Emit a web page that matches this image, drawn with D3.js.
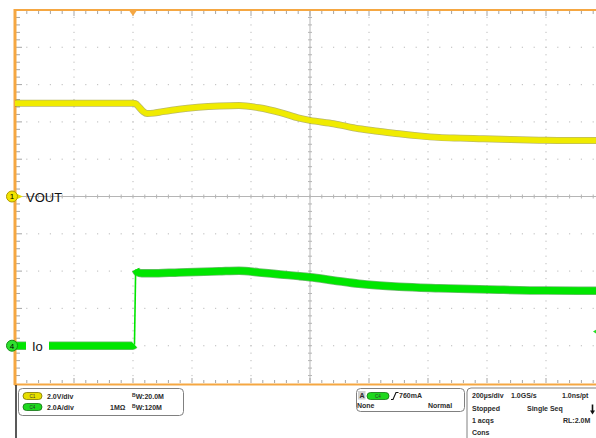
<!DOCTYPE html>
<html>
<head>
<meta charset="utf-8">
<script src="https://cdnjs.cloudflare.com/ajax/libs/d3/7.8.5/d3.min.js"></script>
<style>
    body { margin: 0; background: #fff; }
    svg { display: block; font-family: "Liberation Sans", Arial, sans-serif; }
    .stat { font-size: 7px; font-weight: bold; fill: #2b2b2b; }
</style>
</head>
<body>
<script>
// channel 1 (VOUT): time in us, value in volts
var voutTime  = [-400, -200, 0, 8, 20, 35, 48, 70, 100, 156, 220, 292, 359, 427, 500, 563, 600, 680, 766, 830, 902, 970, 1037, 1110, 1173, 1280, 1376, 1470, 1600];
var voutVolts = [5.0, 5.0, 5.0, 4.98, 4.8, 4.55, 4.45, 4.47, 4.55, 4.68, 4.78, 4.85, 4.88, 4.76, 4.5, 4.2, 4.08, 3.9, 3.63, 3.5, 3.36, 3.25, 3.17, 3.13, 3.1, 3.05, 3.02, 3.0, 3.0];

// channel 4 (Io): time in us, value in amps
var ioTime = [-400, -200, 0, 5, 9, 14, 30, 60, 156, 292, 359, 427, 500, 563, 600, 680, 766, 902, 1037, 1241, 1400, 1600];
var ioAmps = [0, 0, 0, 0.05, 4.08, 3.96, 3.88, 3.88, 3.93, 3.99, 4.02, 3.93, 3.82, 3.73, 3.67, 3.5, 3.32, 3.16, 3.08, 3.0, 2.96, 2.95];
var ioEdge = [3, 4];   // indices of the fast rising edge

// scope settings
var timePerDiv = 200;      // us/div
var ch1Scale = 2.0;        // V/div
var ch4Scale = 2.0;        // A/div
var ch1Offset = 0;         // div
var ch4Offset = -4;        // div
var triggerLevel = 0.76;   // A

// readout texts
var chanLabels = ["VOUT", "Io"];
var ch1Read = ["2.0V/div", ":20.0M"];
var ch4Read = ["2.0A/div", "1M\u03A9", ":120M"];
var trigRead = ["A", "C4", "760mA", "None", "Normal"];
var acqRows = [
    [["200\u00B5s/div", 472], ["1.0GS/s", 511], ["1.0ns/pt", 562]],
    [["Stopped", 472], ["Single Seq", 527]],
    [["1 acqs", 472], ["RL:2.0M", 563]],
    [["Cons", 472]]
];

var width = 596, height = 438;
var orange = "#f5a742";

var svg = d3.select("body").append("svg")
    .attr("width", width)
    .attr("height", height);

// scales: time -> x, divisions -> y
var x = d3.scaleLinear().domain([-2 * timePerDiv, 8 * timePerDiv]).range([15, 605]);
var yDiv = d3.scaleLinear().domain([-5, 5]).range([383, 10]);

// grid dots on major lines
var grid = svg.append("g").attr("fill", "#c6c6c6");
d3.range(1, 10).forEach(function(k) {
    if (k === 5) return;
    var gx = x(-2 * timePerDiv + k * timePerDiv);
    d3.range(1, 50).forEach(function(j) {
        grid.append("rect").attr("x", gx - 0.6).attr("y", yDiv(-5 + j * 0.2) - 0.6)
            .attr("width", 1.2).attr("height", 1.2);
    });
    var gy = yDiv(-5 + k);
    d3.range(1, 50).forEach(function(j) {
        grid.append("rect").attr("x", x(-2 * timePerDiv + j * timePerDiv / 5) - 0.6).attr("y", gy - 0.6)
            .attr("width", 1.2).attr("height", 1.2);
    });
});

// center crosshair with minor ticks
var cross = svg.append("g").attr("stroke", "#b5b5b5").attr("stroke-width", 1);
var cy = yDiv(0), cx = x(3 * timePerDiv);
cross.append("line").attr("x1", 15).attr("x2", 605).attr("y1", cy).attr("y2", cy);
cross.append("line").attr("x1", cx).attr("x2", cx).attr("y1", 10).attr("y2", 383);
d3.range(1, 50).forEach(function(j) {
    var tx = x(-2 * timePerDiv + j * timePerDiv / 5);
    cross.append("line").attr("x1", tx).attr("x2", tx).attr("y1", cy - 2).attr("y2", cy + 2);
    var ty = yDiv(-5 + j * 0.2);
    cross.append("line").attr("x1", cx - 2).attr("x2", cx + 2).attr("y1", ty).attr("y2", ty);
});

// ruler ticks on border
var ruler = svg.append("g").attr("stroke", "#a5a5a5").attr("stroke-width", 1);
d3.range(1, 50).forEach(function(j) {
    var tx = x(-2 * timePerDiv + j * timePerDiv / 5);
    var len = (j % 5 === 0) ? 5 : 3;
    ruler.append("line").attr("x1", tx).attr("x2", tx).attr("y1", 11).attr("y2", 11 + len);
    ruler.append("line").attr("x1", tx).attr("x2", tx).attr("y1", 383).attr("y2", 383 - len);
    var ty = yDiv(-5 + j * 0.2);
    ruler.append("line").attr("x1", 16).attr("x2", 16 + len + 1).attr("y1", ty).attr("y2", ty);
});

// orange frame
svg.append("line").attr("x1", 14).attr("x2", 596).attr("y1", 10).attr("y2", 10)
    .attr("stroke", orange).attr("stroke-width", 2);
svg.append("line").attr("x1", 15).attr("x2", 15).attr("y1", 9).attr("y2", 385)
    .attr("stroke", orange).attr("stroke-width", 3);
svg.append("line").attr("x1", 14).attr("x2", 596).attr("y1", 384.5).attr("y2", 384.5)
    .attr("stroke", orange).attr("stroke-width", 2);

// trigger position marker
svg.append("path")
    .attr("d", "M" + (x(0) - 3.5) + ",11 L" + (x(0) + 3.5) + ",11 L" + x(0) + ",16 Z")
    .attr("fill", orange);

// traces
svg.append("clipPath").attr("id", "clip")
    .append("rect").attr("x", 15).attr("y", 10).attr("width", 590).attr("height", 373);

var voutLine = d3.line()
    .x(function(d) { return x(voutTime[d]); })
    .y(function(d) { return yDiv(voutVolts[d] / ch1Scale + ch1Offset); })
    .curve(d3.curveMonotoneX);

var ioLine = d3.line()
    .x(function(d) { return x(ioTime[d]); })
    .y(function(d) { return yDiv(ioAmps[d] / ch4Scale + ch4Offset); })
    .curve(d3.curveMonotoneX);

var voutIdx = d3.range(voutTime.length);
var ioPre = d3.range(0, ioEdge[0] + 1);
var ioPost = d3.range(ioEdge[1], ioTime.length);

var traces = svg.append("g").attr("clip-path", "url(#clip)").attr("fill", "none");
traces.append("path").attr("d", voutLine(voutIdx))
    .attr("stroke", "#8c8a00").attr("stroke-width", 7).attr("stroke-opacity", 0.6);
traces.append("path").attr("d", voutLine(voutIdx))
    .attr("stroke", "#f0eb00").attr("stroke-width", 5.5);

[ioPre, ioPost].forEach(function(seg) {
    traces.append("path").attr("d", ioLine(seg))
        .attr("stroke", "#118a11").attr("stroke-width", 8.5).attr("stroke-opacity", 0.6);
    traces.append("path").attr("d", ioLine(seg))
        .attr("stroke", "#00e600").attr("stroke-width", 7);
});
traces.append("path").attr("d", ioLine(ioEdge))
    .attr("stroke", "#00e600").attr("stroke-width", 1.6);

// channel labels
var y1 = yDiv(ch1Offset), y4 = yDiv(ch4Offset);
svg.append("path").attr("d", "M16," + (y1 - 3) + " L23," + y1 + " L16," + (y1 + 3) + " Z").attr("fill", "#e8e000");
svg.append("circle").attr("cx", 12).attr("cy", y1).attr("r", 5.5)
    .attr("fill", "#f2e400").attr("stroke", "#b09a00");
svg.append("text").attr("x", 12).attr("y", y1 + 2.8).attr("text-anchor", "middle")
    .style("font-size", "8px").text("1");
svg.append("text").attr("x", 26).attr("y", y1 + 5).style("font-size", "13px").attr("fill", "#111")
    .text(chanLabels[0]);

svg.append("rect").attr("x", 26).attr("y", y4 - 9).attr("width", 23).attr("height", 18).attr("fill", "#fff");
svg.append("circle").attr("cx", 12).attr("cy", y4).attr("r", 5.5)
    .attr("fill", "#2ee02e").attr("stroke", "#129012");
svg.append("text").attr("x", 12).attr("y", y4 + 2.8).attr("text-anchor", "middle")
    .style("font-size", "8px").text("4");
svg.append("text").attr("x", 32).attr("y", y4 + 5).style("font-size", "13px").attr("fill", "#111")
    .text(chanLabels[1]);

// trigger level marker on right edge
var yt = yDiv(triggerLevel / ch4Scale + ch4Offset);
svg.append("path").attr("d", "M593," + yt + " L597," + (yt - 2.5) + " L597," + (yt + 2.5) + " Z")
    .attr("fill", "#22dd22");

// ----- status bar -----
svg.append("line").attr("x1", 16).attr("x2", 16).attr("y1", 385).attr("y2", 438)
    .attr("stroke", "#222").attr("stroke-width", 1.5);

function pill(px, py, w, fill, stroke, label) {
    svg.append("rect").attr("x", px).attr("y", py).attr("width", w).attr("height", 7).attr("rx", 3.5)
        .attr("fill", fill).attr("stroke", stroke).attr("stroke-width", 0.8);
    svg.append("text").attr("x", px + w / 2).attr("y", py + 5.2).attr("text-anchor", "middle")
        .style("font-size", "4.5px").attr("fill", "#333").text(label);
}

function bw(bx, by, rest) {
    var t = svg.append("text").attr("class", "stat").attr("x", bx).attr("y", by);
    t.append("tspan").style("font-size", "5px").attr("dy", -2).text("B");
    t.append("tspan").attr("dy", 2).text("W" + rest);
}

// vertical readout box
svg.append("rect").attr("x", 18.5).attr("y", 388.5).attr("width", 165).attr("height", 27).attr("rx", 4)
    .attr("fill", "none").attr("stroke", "#808080");
pill(23, 392.5, 19, "#e6de00", "#7c7400", "C1");
pill(23, 403.5, 19, "#1ed81e", "#127012", "C4");
svg.append("text").attr("class", "stat").attr("x", 47).attr("y", 398.5).text(ch1Read[0]);
svg.append("text").attr("class", "stat").attr("x", 47).attr("y", 409.5).text(ch4Read[0]);
bw(132, 398.5, ch1Read[1]);
svg.append("text").attr("class", "stat").attr("x", 110).attr("y", 409.5).text(ch4Read[1]);
bw(132, 409.5, ch4Read[2]);

// trigger readout box
svg.append("rect").attr("x", 356.5).attr("y", 388.5).attr("width", 108).attr("height", 23).attr("rx", 4)
    .attr("fill", "none").attr("stroke", "#808080");
svg.append("rect").attr("x", 358).attr("y", 391).attr("width", 7.5).attr("height", 8.5).attr("fill", "#d0d0d0");
svg.append("text").attr("class", "stat").attr("x", 359.5).attr("y", 398).text(trigRead[0]);
pill(367, 392.5, 22, "#1ed81e", "#127012", trigRead[1]);
svg.append("path").attr("d", "M391,399.5 L393,399.5 L396,392.5 L398.5,392.5")
    .attr("fill", "none").attr("stroke", "#111").attr("stroke-width", 1.1);
svg.append("text").attr("class", "stat").attr("x", 399).attr("y", 398).text(trigRead[2]);
svg.append("text").attr("class", "stat").attr("x", 357).attr("y", 408).text(trigRead[3]);
svg.append("text").attr("class", "stat").attr("x", 428).attr("y", 408).text(trigRead[4]);

// acquisition readout
svg.append("path").attr("d", "M467,438 L467,392 Q467,388 471,388 L596,388")
    .attr("fill", "none").attr("stroke", "#808080");
var rowY = [398, 410.5, 423, 435];
acqRows.forEach(function(row, r) {
    row.forEach(function(cell) {
        svg.append("text").attr("class", "stat").attr("x", cell[1]).attr("y", rowY[r]).text(cell[0]);
    });
});
svg.append("line").attr("x1", 592.5).attr("x2", 592.5).attr("y1", 404.5).attr("y2", 411)
    .attr("stroke", "#111").attr("stroke-width", 1.6);
svg.append("path").attr("d", "M590,410.5 L595,410.5 L592.5,414.5 Z").attr("fill", "#111");
</script>
</body>
</html>
